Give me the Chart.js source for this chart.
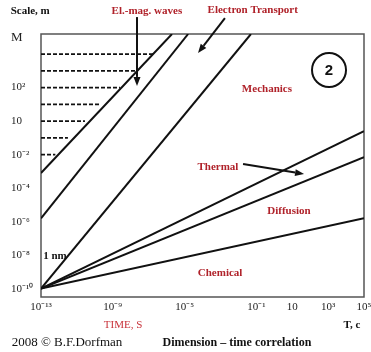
<!DOCTYPE html>
<html>
<head>
<meta charset="utf-8">
<script src="https://cdn.jsdelivr.net/npm/chart.js@4/dist/chart.umd.min.js"></script>
<style>
  body { margin: 0; background: #fff; }
  canvas { display: block; }
</style>
</head>
<body>
<canvas id="myChart" width="371" height="352"></canvas>
<script>
// Both axes are in decimal exponents (log10 of time in s, size in m)
const xTickValues = [-13, -9, -5, -1, 1, 3, 5];
const xTickLabels = ["10⁻¹³", "10⁻⁹", "10⁻⁵", "10⁻¹", "10", "10³", "10⁵"];
const yTickValues = [-10, -8, -6, -4, -2, 0, 2, 5];
const yTickLabels = ["10⁻¹⁰", "10⁻⁸", "10⁻⁶", "10⁻⁴", "10⁻²", "10", "10²", "M"];

// Boundary lines (start / end points)
const lineStartX = [-13, -13, -13, -13, -13, -13];
const lineStartY = [-3.1, -5.8, -10, -10, -10, -10];
const lineEndX = [-5.7, -4.8, -1.3, 5, 5, 5];
const lineEndY = [5.2, 5.2, 5.2, -0.6, -2.15, -5.8];

// Dashed levels left of the el.-mag. band
const dashLevels = [4, 3, 2, 1, 0, -1, -2];
const dashEnds = [-6.65, -7.6, -8.6, -9.7, -10.55, -11.5, -12.2];

const RED = "#b0222a";
const serif = "'Liberation Serif', serif";

// Text notes, placed in axis units
const notes = [
    { text: "Scale, m", x: -13.6, y: 6.57, color: "#111", font: "bold 11px " + serif },
    { text: "El.-mag. waves", x: -7.1, y: 6.57, color: RED, font: "bold 11px " + serif },
    { text: "Electron Transport", x: -1.2, y: 6.63, color: RED, font: "bold 11px " + serif },
    { text: "Mechanics", x: -0.41, y: 1.92, color: RED, font: "bold 11px " + serif },
    { text: "Thermal", x: -3.14, y: -2.74, color: RED, font: "bold 11px " + serif },
    { text: "Diffusion", x: 0.82, y: -5.37, color: RED, font: "bold 11px " + serif },
    { text: "Chemical", x: -3.02, y: -9.07, color: RED, font: "bold 11px " + serif },
    { text: "1 nm", x: -12.22, y: -8.05, color: "#111", font: "bold 11px " + serif },
    { text: "TIME, S", x: -8.43, y: -12.17, color: "#c8323a", font: "11px " + serif },
    { text: "T, c", x: 4.33, y: -12.17, color: "#111", font: "bold 11px " + serif },
    { text: "2008 © B.F.Dorfman", x: -11.55, y: -13.25, color: "#111", font: "13px " + serif },
    { text: "Dimension – time correlation", x: -2.08, y: -13.25, color: "#111", font: "bold 12px " + serif },
];

const arrows = [
    { x1: -7.65, y1: 6.21, x2: -7.65, y2: 2.1 },
    { x1: -2.75, y1: 6.15, x2: -4.25, y2: 4.07 },
    { x1: -1.74, y1: -2.56, x2: 1.66, y2: -3.16 },
];

const badge = { text: "2", x: 3.05, y: 3.05 };

const datasets = [];
for (let i = 0; i < lineStartX.length; i++) {
    datasets.push({
        data: [{ x: lineStartX[i], y: lineStartY[i] }, { x: lineEndX[i], y: lineEndY[i] }],
        showLine: true,
        borderColor: "#111",
        borderWidth: 2,
        pointRadius: 0,
    });
}
for (let i = 0; i < dashLevels.length; i++) {
    datasets.push({
        data: [{ x: -13, y: dashLevels[i] }, { x: dashEnds[i], y: dashLevels[i] }],
        showLine: true,
        borderColor: "#111",
        borderWidth: 1.6,
        borderDash: [4, 2],
        pointRadius: 0,
    });
}

const drawArrow = function (ctx, x1, y1, x2, y2) {
    const a = Math.atan2(y2 - y1, x2 - x1);
    const len = 9, half = 3.5;
    const bx = x2 - len * Math.cos(a), by = y2 - len * Math.sin(a);
    ctx.beginPath();
    ctx.moveTo(x1, y1);
    ctx.lineTo(bx, by);
    ctx.stroke();
    ctx.beginPath();
    ctx.moveTo(x2, y2);
    ctx.lineTo(bx + half * Math.sin(a), by - half * Math.cos(a));
    ctx.lineTo(bx - half * Math.sin(a), by + half * Math.cos(a));
    ctx.closePath();
    ctx.fill();
};

const decorPlugin = {
    id: "decor",
    beforeDatasetsDraw(chart) {
        const { ctx, chartArea } = chart;
        ctx.save();
        ctx.strokeStyle = "#555";
        ctx.lineWidth = 1.5;
        ctx.strokeRect(chartArea.left, chartArea.top, chartArea.right - chartArea.left, chartArea.bottom - chartArea.top);
        ctx.restore();
    },
    afterDatasetsDraw(chart) {
        const { ctx } = chart;
        const xs = chart.scales.x, ys = chart.scales.y;
        ctx.save();
        ctx.textAlign = "center";
        ctx.textBaseline = "middle";
        notes.forEach(function (n) {
            ctx.font = n.font;
            ctx.fillStyle = n.color;
            ctx.fillText(n.text, xs.getPixelForValue(n.x), ys.getPixelForValue(n.y));
        });
        ctx.strokeStyle = "#111";
        ctx.fillStyle = "#111";
        ctx.lineWidth = 2;
        arrows.forEach(function (a) {
            drawArrow(ctx, xs.getPixelForValue(a.x1), ys.getPixelForValue(a.y1),
                xs.getPixelForValue(a.x2), ys.getPixelForValue(a.y2));
        });
        const cx = xs.getPixelForValue(badge.x), cy = ys.getPixelForValue(badge.y);
        ctx.beginPath();
        ctx.arc(cx, cy, 17, 0, Math.PI * 2);
        ctx.stroke();
        ctx.font = "bold 15px 'Liberation Sans', sans-serif";
        ctx.fillText(badge.text, cx, cy + 1);
        ctx.restore();
    },
};

Chart.defaults.font.family = serif;
Chart.defaults.font.size = 10;
Chart.defaults.color = "#222";

new Chart(document.getElementById("myChart"), {
    type: "scatter",
    data: { datasets: datasets },
    plugins: [decorPlugin],
    options: {
        responsive: false,
        animation: false,
        layout: { padding: { left: 11, top: 34, right: 7, bottom: 35 } },
        plugins: { legend: { display: false }, tooltip: { enabled: false } },
        scales: {
            x: {
                type: "linear",
                min: -13,
                max: 5,
                grid: { display: false, drawTicks: false },
                border: { display: false },
                afterBuildTicks: function (scale) {
                    scale.ticks = xTickValues.map((v) => ({ value: v }));
                },
                afterFit: function (scale) {
                    scale.height = 20;
                    scale.paddingLeft = 0;
                    scale.paddingRight = 0;
                },
                ticks: {
                    autoSkip: false,
                    maxRotation: 0,
                    padding: 4,
                    font: { size: 11 },
                    callback: (v, i) => xTickLabels[i],
                },
            },
            y: {
                type: "linear",
                min: -10.5,
                max: 5.2,
                grid: { display: false, drawTicks: false },
                border: { display: false },
                afterBuildTicks: function (scale) {
                    scale.ticks = yTickValues.map((v) => ({ value: v }));
                },
                afterFit: function (scale) {
                    scale.width = 30;
                    scale.paddingTop = 0;
                    scale.paddingBottom = 0;
                },
                ticks: {
                    autoSkip: false,
                    crossAlign: "far",
                    font: (c) => (c.tick && c.tick.value === 5 ? { size: 13 } : { size: 11 }),
                    callback: (v, i) => yTickLabels[i],
                },
            },
        },
    },
});
</script>
</body>
</html>
